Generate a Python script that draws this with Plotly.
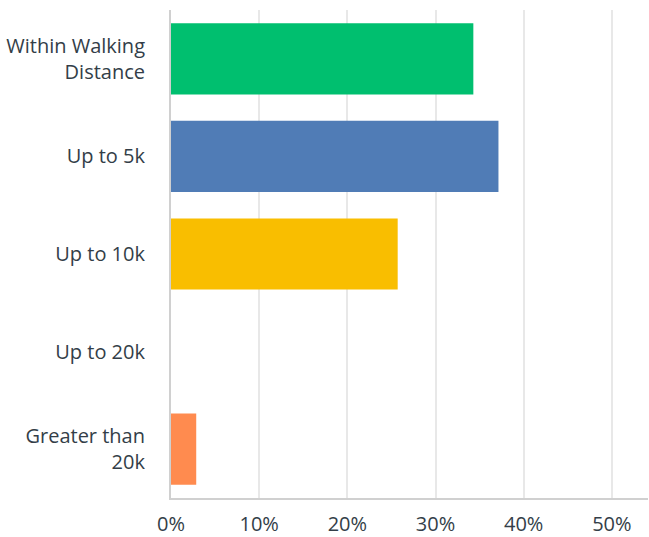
import plotly.graph_objects as go

categories = ["Within Walking<br>Distance", "Up to 5k", "Up to 10k", "Up to 20k", "Greater than<br>20k"]
values = [34.29, 37.14, 25.71, 0.0, 2.86]
colors = ["#00bf6f", "#507cb6", "#f9be00", "#6bc8cd", "#ff8b4f"]
tick_vals = [0, 10, 20, 30, 40, 50]
tick_text = ["0%", "10%", "20%", "30%", "40%", "50%"]

fig = go.Figure(go.Bar(
    x=values, y=categories, orientation="h",
    marker=dict(color=colors, line=dict(width=0)),
    width=0.73,
))

font_fam = "Open Sans, sans-serif"
fig.update_layout(
    width=649, height=537,
    margin=dict(l=171, r=1, t=10, b=39),
    paper_bgcolor="white", plot_bgcolor="white",
    showlegend=False,
    font=dict(family=font_fam, size=20, color="#333e48"),
    xaxis=dict(range=[0, 54.1], tickvals=tick_vals, ticktext=tick_text,
               showgrid=True, gridcolor="#e8e8e8", gridwidth=2,
               showline=True, linecolor="#d0d0d0", linewidth=2,
               zeroline=False, ticks="", ticklabelstandoff=7, automargin=False,
               tickfont=dict(size=20, color="#333e48"), fixedrange=True),
    yaxis=dict(autorange="reversed", showgrid=False,
               showline=True, linecolor="#d0d0d0", linewidth=2,
               ticks="", ticklabelstandoff=20, automargin=False,
               tickfont=dict(size=20, color="#333e48"), fixedrange=True),
)

fig.write_html(
    "out.html",
    config={"displayModeBar": False},
    post_script="document.body.style.margin='0px';document.body.style.overflow='hidden';",
)
